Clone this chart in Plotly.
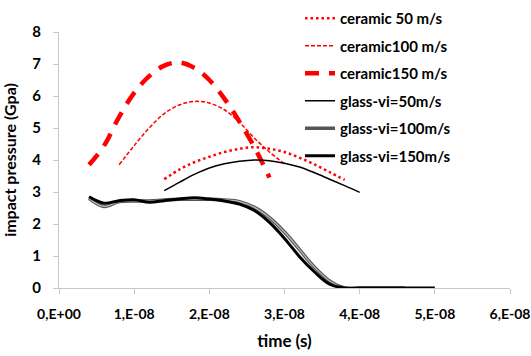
import plotly.graph_objects as go

# time in units of 1e-8 s
t_c150 = [0.4, 0.6, 0.8, 1.0, 1.2, 1.4, 1.6, 1.8, 2.0, 2.2, 2.4, 2.6, 2.8]
p_c150 = [3.85, 4.45, 5.35, 6.1, 6.62, 6.95, 7.05, 6.88, 6.5, 5.92, 5.2, 4.4, 3.45]

t_c100 = [0.8, 1.0, 1.2, 1.4, 1.6, 1.8, 2.0, 2.2, 2.4, 2.6, 2.8, 3.0]
p_c100 = [3.85, 4.45, 5.0, 5.45, 5.72, 5.83, 5.78, 5.57, 5.18, 4.68, 4.25, 3.88]

t_c50 = [1.4, 1.6, 1.8, 2.0, 2.2, 2.4, 2.6, 2.8, 3.0, 3.2, 3.4, 3.6, 3.8]
p_c50 = [3.4, 3.7, 3.93, 4.1, 4.25, 4.35, 4.4, 4.35, 4.25, 4.07, 3.86, 3.62, 3.38]

t_g50 = [1.4, 1.6, 1.8, 2.0, 2.2, 2.4, 2.6, 2.8, 3.0, 3.2, 3.4, 3.6, 3.8, 4.0]
p_g50 = [3.04, 3.3, 3.55, 3.75, 3.88, 3.96, 4.0, 3.98, 3.9, 3.78, 3.6, 3.4, 3.2, 2.99]

t_g100 = [0.4, 0.6, 0.8, 1.0, 1.2, 1.4, 1.6, 1.8, 2.0, 2.2, 2.4, 2.6, 2.8, 3.0, 3.2, 3.4, 3.6, 3.8, 4.0, 4.2, 4.4, 4.6]
p_g100 = [2.8, 2.55, 2.7, 2.72, 2.72, 2.75, 2.77, 2.77, 2.77, 2.75, 2.7, 2.52, 2.2, 1.75, 1.2, 0.65, 0.22, 0.0, 0.0, 0.0, 0.0, 0.0]

t_g150 = [0.4, 0.6, 0.8, 1.0, 1.2, 1.4, 1.6, 1.8, 2.0, 2.2, 2.4, 2.6, 2.8, 3.0, 3.2, 3.4, 3.6, 3.8, 4.0, 4.2, 4.4, 4.6, 4.8, 5.0]
p_g150 = [2.85, 2.65, 2.73, 2.76, 2.68, 2.73, 2.78, 2.82, 2.78, 2.72, 2.62, 2.42, 2.05, 1.55, 0.98, 0.5, 0.12, 0.0, 0.0, 0.0, 0.0, 0.0, 0.0, 0.0]

x_ticks = [0, 1, 2, 3, 4, 5, 6]
x_ticklabels = ["0,E+00", "1,E-08", "2,E-08", "3,E-08", "4,E-08", "5,E-08", "6,E-08"]
SCALE = 1e-8

def sc(ts):
    return [v * SCALE for v in ts]

fig = go.Figure()
fig.add_trace(go.Scatter(x=sc(t_c50), y=p_c50, mode="lines", name="ceramic 50 m/s",
                         legendgroup="a", line=dict(color="#FF0000", width=2.5, dash="2.5px,3px", shape="spline")))
fig.add_trace(go.Scatter(x=sc(t_c100), y=p_c100, mode="lines", name="ceramic100 m/s",
                         legendgroup="b", line=dict(color="#FF0000", width=1.5, dash="4px,2px", shape="spline")))
fig.add_trace(go.Scatter(x=sc(t_c150), y=p_c150, mode="lines", name="ceramic150 m/s",
                         legendgroup="c", line=dict(color="#FF0000", width=4.5, dash="14px,10px", shape="spline")))
fig.add_trace(go.Scatter(x=sc(t_g50), y=p_g50, mode="lines", name="glass-vi=50m/s",
                         legendgroup="d", line=dict(color="#000000", width=1.5, shape="spline")))
fig.add_trace(go.Scatter(x=sc(t_g100), y=p_g100, mode="lines", name="glass-vi=100m/s",
                         legendgroup="e", line=dict(color="#555555", width=3.5, shape="spline")))
fig.add_trace(go.Scatter(x=sc(t_g100), y=p_g100, mode="lines", showlegend=False, hoverinfo="skip",
                         legendgroup="e", line=dict(color="#bbbbbb", width=1.2, shape="spline")))
fig.add_trace(go.Scatter(x=sc(t_g150), y=p_g150, mode="lines", name="glass-vi=150m/s",
                         legendgroup="f", line=dict(color="#000000", width=3, shape="spline")))

font_family = "Lato, 'Open Sans', sans-serif"

fig.update_layout(
    width=531, height=356,
    margin=dict(l=59, r=21, t=32, b=68, autoexpand=False),
    paper_bgcolor="white", plot_bgcolor="white",
    font=dict(family=font_family, color="black", size=14, weight="bold"),
    showlegend=True,
    legend=dict(xref="container", yref="container", x=300 / 531, y=1 - 2 / 356,
                xanchor="left", yanchor="top", maxheight=350,
                bgcolor="rgba(0,0,0,0)", tracegroupgap=5,
                font=dict(size=15, family=font_family, weight="bold")),
    xaxis=dict(range=[0, 6e-8], tickvals=sc(x_ticks), ticktext=x_ticklabels,
               showgrid=False, zeroline=False, showline=True, linecolor="#c8c8c8", linewidth=1,
               ticks="outside", ticklen=5, tickcolor="#c8c8c8", ticklabelstandoff=8,
               title=dict(text="time (s)", font=dict(size=17, weight="bold"), standoff=14),
               tickfont=dict(size=14, weight="bold")),
    yaxis=dict(range=[0, 8], dtick=1, showgrid=False, zeroline=False, showline=True,
               linecolor="#c8c8c8", linewidth=1, ticks="outside", ticklen=5, tickcolor="#c8c8c8",
               ticklabelstandoff=9,
               title=dict(text="impact pressure (Gpa)", font=dict(size=16, weight="bold"), standoff=15),
               tickfont=dict(size=15, weight="bold")),
)

fig.write_html("out.html")
